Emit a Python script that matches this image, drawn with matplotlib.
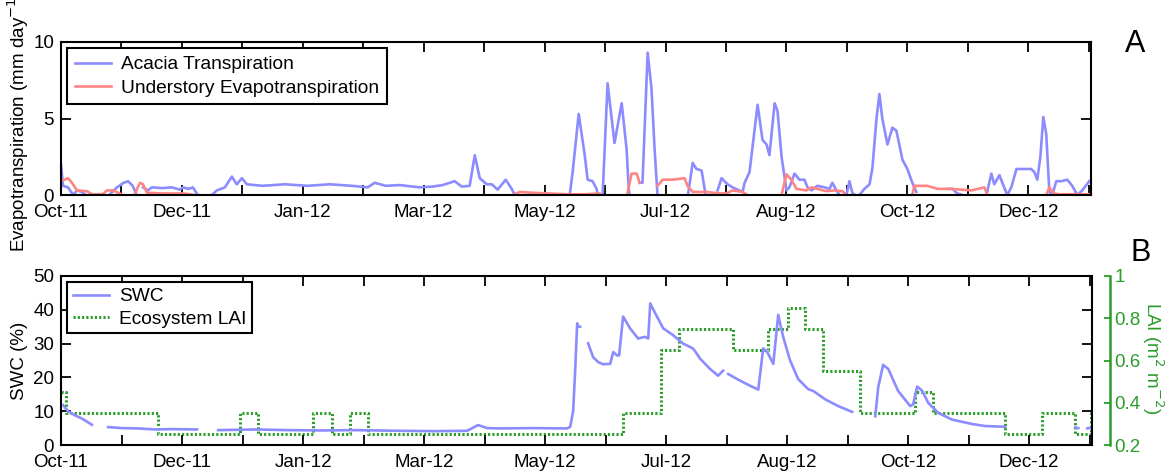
import numpy as np
import matplotlib
matplotlib.use("Agg")
import matplotlib.pyplot as plt

plt.rcParams['font.family'] = ['Liberation Sans', 'DejaVu Sans']

nan = np.nan

# x in days since start of record (tick labels every 54 days)
tick_labels = ["Oct-11", "Dec-11", "Jan-12", "Mar-12", "May-12",
               "Jul-12", "Aug-12", "Oct-12", "Dec-12"]

acacia_day = [0, 0.9, 3.1, 5.5, 7.1, 9.4, 11, nan,
              21.9, 25, 28, 30, 32, 33.9, nan,
              36.6, 38.8, 40.6, 45, 49.5, 53.1, 54.4, 57, 58.9, 61.1, nan,
              67.4, 69.6, 73.2, 76.3, 78.5, 80.8, 83, 90, 100, 110, 120, 130, 137, 140.1, 145,
              151.3, 160, 166, 170.5, 175.8, 179, 182.5, 184.8, 187, 190.1, 192.4, 195, 198.6,
              201.3, 202.6, nan,
              210.2, 212.4, nan,
              227.2, 228.5, 231.2, 233.9, 235.2, 237.4, 239.2, 239.7, nan,
              241.9, 244.1, 247.2, 250.4, 252.6, 253.5, 253.9, nan,
              258.4, 259.7, 262, 263.7, 265.1, 266.4, nan,
              280, 282.1, 283.8, 286.1, 287.9, nan,
              293.2, 295, 297.7, 299.9, 302.1, 304.4, 305.3, 307.5, 311.1, 313.3, 315.1, 316.4,
              318.7, 320, 321.8, 324, 325.3, 327.6, 329.8, 332, 333.4, 335.2, 337.8, 341, 343.2,
              344.5, 346.3, 347.7, nan,
              350.8, 352.1, 353.5, 354.8, nan,
              356.6, 358.8, 361.1, 362.4, 364.2, 365.5, 366.8, 369.1, 371.3, 373.1, 375.8, 378,
              380.2, 382, nan,
              395.9, 398.1, 400.3, 402.6, nan,
              413.3, 415.5, 416.8, 419.1, 420.4, 422.6, 424.4, 426.7, 428.9, 433.3, 434.7, 436,
              437.4, 438.7, 440, 441.4, 442.7, 444.5, 446.7, 449.4, 451.6, 453.9, 456.1, 459.2]
acacia_et = [2.0, 0.6, 0.5, 0.0, 0.3, 0.2, 0.0, nan,
             0.05, 0.5, 0.8, 0.9, 0.6, 0.0, nan,
             0.5, 0.3, 0.5, 0.45, 0.5, 0.35, 0.5, 0.4, 0.5, 0.0, nan,
             0.0, 0.3, 0.5, 1.2, 0.7, 1.1, 0.7, 0.6, 0.7, 0.6, 0.7, 0.6, 0.5, 0.8, 0.6,
             0.65, 0.5, 0.55, 0.65, 0.9, 0.55, 0.6, 2.6, 1.1, 0.7, 0.7, 0.35, 1.0,
             0.4, 0.0, nan,
             0.05, 0.05, nan,
             0.0, 1.5, 5.3, 2.6, 1.0, 0.9, 0.4, 0.0, nan,
             0.0, 7.3, 3.4, 6.0, 3.0, 0.5, 0.0, nan,
             0.8, 0.8, 9.3, 7.0, 3.0, 0.0, nan,
             0.0, 2.1, 1.7, 1.6, 0.0, nan,
             0.3, 1.1, 0.7, 0.5, 0.35, 0.2, 0.8, 1.5, 5.9, 3.6, 3.3, 2.6,
             6.0, 5.5, 2.5, 0.3, 0.5, 1.4, 1.0, 1.0, 0.5, 0.3, 0.6, 0.5, 0.4,
             0.8, 0.3, 0.0, nan,
             0.0, 0.9, 0.1, 0.0, nan,
             0.0, 0.4, 0.7, 1.8, 5.0, 6.6, 5.0, 3.3, 4.4, 4.2, 2.3, 1.7,
             0.8, 0.2, nan,
             0.4, 0.4, 0.1, 0.0, nan,
             0.0, 1.4, 0.7, 1.3, 0.8, 0.0, 0.5, 1.7, 1.7, 1.7, 1.5, 1.0,
             2.5, 5.1, 4.0, 0.2, 0.0, 0.9, 0.9, 1.0, 0.6, 0.0, 0.3, 0.9]

under_day = [0, 3.1, 4.9, 7.1, 11.6, 13.8, 18.7, 20.5, 23.2, 26.3, 27.7, nan,
             33, 35.3, 36.6, 38.4, 45, 55, 59.8, nan,
             202.6, 204.8, 210, 218.2, 225.8, 234, 240.6, 241, nan,
             253, 254.8, 257.1, 258.4, nan,
             266.4, 268.7, 273.1, 278.5, 279.8, 282.1, 288.3, 294.1, 297.2, 299.9, 304.4, 306, nan,
             321.8, 324, 326.2, 328.5, 332.9, 335.2, 337.8, 341.8, 345.4, 349, 350.8, nan,
             380.2, 381.1, 386.9, 391.4, 397.6, 406.6, 412.4, 413.7, nan,
             440, 441.4, 443.6, 445.8, 459.2]
under_et = [0.9, 1.1, 0.8, 0.3, 0.25, 0.05, 0.05, 0.3, 0.3, 0.1, 0.0, nan,
            0.1, 0.8, 0.7, 0.15, 0.1, 0.1, 0.0, nan,
            0.05, 0.2, 0.15, 0.1, 0.05, 0.05, 0.1, 0.0, nan,
            0.1, 1.4, 1.4, 0.8, nan,
            0.6, 1.0, 1.0, 1.1, 0.6, 0.2, 0.2, 0.1, 0.1, 0.3, 0.2, 0.05, nan,
            0.0, 1.35, 1.0, 0.4, 0.3, 0.5, 0.4, 0.25, 0.3, 0.25, 0.0, nan,
            0.0, 0.6, 0.6, 0.4, 0.4, 0.3, 0.5, 0.0, nan,
            0.0, 0.5, 0.1, 0.05, 0.05]

swc_day = [0.9, 3.1, 6.2, 9.4, 13.8, nan,
           21, 27.2, 34.4, 42, 49.5, 60.7, nan,
           70.1, 79, 86.6, 101.3, 116.5, 131.2, 151.3, 166, 181.2, 186.1, 190.1, 195.9, 210.6,
           225.8, 227.2, 228.5, 229.4, 230.3, 230.7, 231.6, nan,
           235.2, 237.4, 239.7, 241.9, 245, 246.4, 248.1, 249, 250.8, 253.9, 257.5, 260.6, 262,
           262.9, 265.1, 268.7, 273.1, 277.6, 282.1, 285.2, 289.6, 293.2, 295.4, nan,
           297.7, 301.7, 307.5, 311.1, 313.3, 315.1, 317.8, 320, 322.2, 325.3, 328.9, 333.4,
           335.6, 341, 346.8, 353, nan,
           363.3, 364.6, 366.8, 369.1, 373.5, 378.9, 380.2, 382, 384.3, 386.9, 391.4, 397.6,
           406.6, 412.4, 421.3, nan,
           452.5, 453.9, nan,
           457.9, 460.1]
swc = [11.8, 10.0, 8.8, 7.8, 6.0, nan,
       5.3, 5.0, 4.9, 4.6, 4.7, 4.6, nan,
       4.4, 4.5, 4.6, 4.4, 4.3, 4.4, 4.2, 4.1, 4.2, 5.9, 5.0, 4.9, 5.0,
       4.9, 5.4, 10, 22, 36, 35, 35, nan,
       30.1, 26, 24.5, 23.9, 24, 27.5, 26.5, 26.5, 38, 34.5, 31.5, 32, 31.5,
       41.9, 39, 34.5, 32.5, 30, 28.5, 25.5, 22.5, 20.5, 22, nan,
       21, 19.5, 17.5, 16.4, 28.6, 27.5, 24, 38.5, 32, 25, 19.5, 16.5,
       16, 13.5, 11.5, 9.8, nan,
       8.5, 17, 23.7, 22.5, 16, 11.5, 12, 17.3, 16, 12.5, 9.5, 7.5,
       6.2, 5.6, 5.4, nan,
       5.2, 5.0, nan,
       4.9, 5.2]

lai_day = [0, 2.2, 43.3, 80, 88, 112.5, 121, 129, 137, 250.8, 267.5, 275.8, 300,
           315.5, 324.5, 332, 340, 356.6, 381, 389, 421, 437.8, 452.5, 459.6, 461]
lai = [0.45, 0.35, 0.25, 0.35, 0.25, 0.35, 0.25, 0.35, 0.25, 0.35, 0.65, 0.75, 0.65,
       0.75, 0.85, 0.75, 0.55, 0.35, 0.45, 0.35, 0.25, 0.35, 0.25, 0.35, 0.35]

BLUE = '#8c8cff'
RED = '#ff8585'
GREEN = '#2a9d2a'
FS = 13.5
LFS = 13.8

W, H = 1168, 475
fig = plt.figure(figsize=(W / 100, H / 100), dpi=100)

def fx(px):
    return px / W

def fy(py):
    return 1 - py / H

ax1 = fig.add_axes([fx(61), fy(195), fx(1091) - fx(61), fy(42) - fy(195)])
ax2 = fig.add_axes([fx(61), fy(445), fx(1092) - fx(61), fy(276) - fy(445)])

major = np.arange(0, 433, 54)
minor = np.arange(27, 460, 54)

def style_x(ax):
    ax.set_xlim(0, 460)
    ax.set_xticks(major)
    ax.set_xticklabels(tick_labels)
    ax.set_xticks(minor, minor=True)
    ax.tick_params(axis='both', which='both', direction='in', length=7, width=1.3,
                   top=True, right=True, labelsize=FS, pad=5)
    ax.tick_params(axis='x', pad=6.5)
    for s in ax.spines.values():
        s.set_linewidth(1.5)

ax1.plot(acacia_day, acacia_et, color=BLUE, lw=1.9, label='Acacia Transpiration')
ax1.plot(under_day, under_et, color=RED, lw=1.9, label='Understory Evapotranspiration')
style_x(ax1)
ax1.set_ylim(0, 10)
ax1.set_yticks([0, 5, 10])
leg1 = ax1.legend(loc='upper left', fontsize=LFS, frameon=True, fancybox=False,
                  edgecolor='black', framealpha=1, handlelength=1.9,
                  handletextpad=0.5, borderaxespad=0.33, borderpad=0.4, labelspacing=0.3)
leg1.get_frame().set_linewidth(1.5)

l1, = ax2.plot(swc_day, swc, color=BLUE, lw=1.9, label='SWC')
style_x(ax2)
ax2.set_ylim(0, 50)
ax2.set_yticks([0, 10, 20, 30, 40, 50])

ax3 = ax2.twinx()
l2, = ax3.step(lai_day, lai, where='post', color=GREEN, lw=2.2,
               linestyle=(0, (0.7, 0.7)), label='Ecosystem LAI')
ax3.set_ylim(0.2, 1.0)
ax3.set_yticks([0.2, 0.4, 0.6, 0.8, 1.0])
ax3.set_yticklabels(['0.2', '0.4', '0.6', '0.8', '1'])
for k in ['top', 'bottom', 'left']:
    ax3.spines[k].set_visible(False)
ax3.spines['right'].set_position(('outward', 13))
ax3.spines['right'].set_color(GREEN)
ax3.spines['right'].set_linewidth(1.8)
ax3.tick_params(axis='y', colors=GREEN, direction='in', length=4, width=1.3,
                labelsize=FS, pad=3)
ax2.tick_params(axis='y', right=True, labelright=False)

leg2 = ax2.legend(handles=[l1, l2], loc='upper left', fontsize=LFS, frameon=True,
                  fancybox=False, edgecolor='black', framealpha=1, handlelength=1.9,
                  handletextpad=0.5, borderaxespad=0.33, borderpad=0.3, labelspacing=0.25)
leg2.get_frame().set_linewidth(1.5)
ax2.set_zorder(ax3.get_zorder() + 1)
ax2.patch.set_visible(False)

# axis titles placed explicitly
fig.text(fx(18), fy(121), 'Evapotranspiration (mm day$^{-1}$)', fontsize=FS,
         rotation=90, ha='center', va='center')
fig.text(fx(19), fy(361), 'SWC (%)', fontsize=FS, rotation=90, ha='center', va='center')
fig.text(fx(1153), fy(358), 'LAI (m$^2$ m$^{-2}$)', fontsize=FS, rotation=270,
         ha='center', va='center', color=GREEN)

fig.text(fx(1135), fy(44), 'A', fontsize=22, ha='center', va='center')
fig.text(fx(1141), fy(253), 'B', fontsize=22, ha='center', va='center')

fig.savefig('out.png', dpi=100)
